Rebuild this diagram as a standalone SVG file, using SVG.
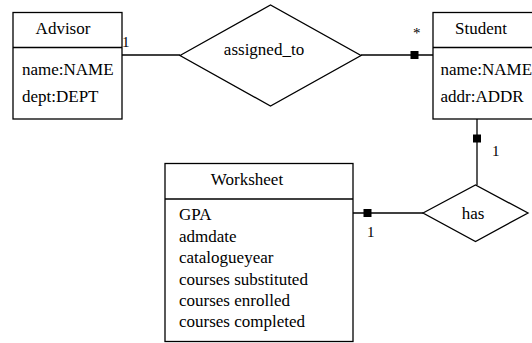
<svg xmlns="http://www.w3.org/2000/svg" width="532" height="343" viewBox="0 0 532 343">
<style>
.box{fill:#fff;stroke:#000;stroke-width:1.3}
.ln{fill:none;stroke:#000;stroke-width:1.3}
.c{text-anchor:middle}
.m{font-size:15px}
</style>
<defs>
<rect id="sq" x="-4" y="-4" width="8" height="8" fill="#000"/>
</defs>
<rect width="532" height="343" fill="#fff"/>
<g font-family="Liberation Serif, Times New Roman, serif" font-size="17" fill="#000">
<g id="connectors">
<line class="ln" x1="122" y1="55" x2="180" y2="55"/>
<line class="ln" x1="361" y1="55" x2="433" y2="55"/>
<use href="#sq" x="414.5" y="55"/>
<line class="ln" x1="477" y1="119" x2="477" y2="185"/>
<use href="#sq" x="477" y="138.5"/>
<line class="ln" x1="353" y1="213" x2="423" y2="213"/>
<use href="#sq" x="367.5" y="213"/>
<text class="m" x="122" y="47">1</text>
<text class="m" x="413" y="38">*</text>
<text class="m" x="492" y="156">1</text>
<text class="m" x="367" y="237">1</text>
</g>
<g id="advisor">
<rect class="box" x="13" y="12.5" width="109" height="106.5"/>
<line class="ln" x1="13" y1="47.5" x2="122" y2="47.5"/>
<text class="c" x="63" y="34">Advisor</text>
<text x="22" y="75">name:NAME</text>
<text x="22" y="102">dept:DEPT</text>
</g>
<g id="assigned_to">
<polygon class="box" points="180,55.5 270.5,5 361,55.5 270.5,106"/>
<text class="c" x="264" y="55">assigned_to</text>
</g>
<g id="student">
<rect class="box" x="433" y="12.5" width="110" height="106.5"/>
<line class="ln" x1="433" y1="47.5" x2="543" y2="47.5"/>
<text class="c" x="481" y="34">Student</text>
<text x="440.5" y="75">name:NAME</text>
<text x="440.5" y="102">addr:ADDR</text>
</g>
<g id="has">
<polygon class="box" points="423,213 475.5,185 528,213 475.5,241.5"/>
<text class="c" x="473" y="219">has</text>
</g>
<g id="worksheet">
<rect class="box" x="165" y="163.5" width="188" height="178"/>
<line class="ln" x1="165" y1="199" x2="353" y2="199"/>
<text class="c" x="247" y="185">Worksheet</text>
<text x="179" y="220">GPA</text>
<text x="179" y="241.5">admdate</text>
<text x="179" y="263">catalogueyear</text>
<text x="179" y="284.5">courses substituted</text>
<text x="179" y="306">courses enrolled</text>
<text x="179" y="327">courses completed</text>
</g>
</g>
</svg>
